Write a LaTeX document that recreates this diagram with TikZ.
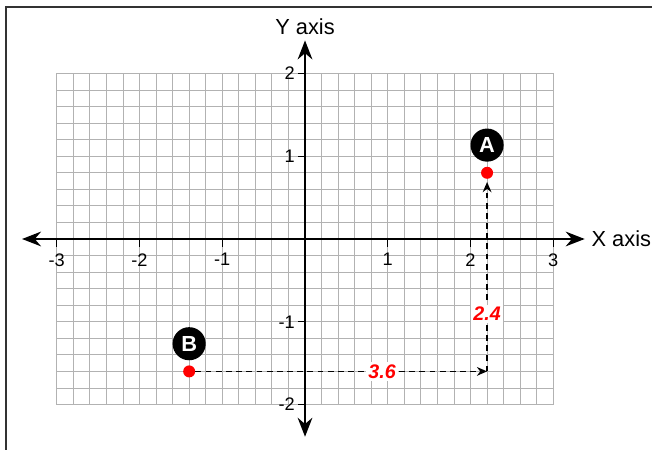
\documentclass[tikz,border=0pt]{standalone}
\usepackage{fontspec}
\setmainfont{Liberation Sans}
\usetikzlibrary{arrows.meta,positioning}
\definecolor{gridgray}{gray}{0.70}
\tikzset{
  dot/.style={circle,fill=red,inner sep=0pt,minimum size=0.29cm},
  badge/.style={circle,fill=black,text=white,inner sep=0pt,minimum size=0.8cm,
    font=\fontsize{15}{17}\selectfont\bfseries},
  axis/.style={line width=2pt,{Stealth[length=13pt,width=10pt]}-{Stealth[length=13pt,width=10pt]}},
  dist/.style={line width=1.1pt,dash pattern=on 4pt off 3pt,-{Stealth[length=7pt,width=6pt]}},
  distlabel/.style={fill=white,text=red,inner sep=1.5pt,
    font=\fontsize{13.5}{15}\selectfont\bfseries\itshape},
  ticklabel/.style={inner sep=0pt,font=\fontsize{12.5}{14}\selectfont},
}
\begin{document}
\begin{tikzpicture}[x=2cm,y=2cm]
  \useasboundingbox (-3.686,-2.538) rectangle (4.193,2.888);
  % frame
  \draw[line width=1.4pt,black!80] (-3.61,-3) rectangle (4.6,2.80);
  % grid
  \draw[gridgray,line width=0.6pt,step=0.2] (-3,-2) grid (3,2);
  % axes
  \draw[axis] (-3.42,0) -- (3.38,0);
  \draw[axis] (0,-2.39) -- (0,2.40);
  \node[anchor=west,inner sep=0pt,font=\fontsize{15}{17}\selectfont] (xname) at (3.46,0) {X axis};
  \node[inner sep=0pt,font=\fontsize{15}{17}\selectfont] (yname) at (0,2.56) {Y axis};
  % ticks
  \foreach \x in {-3,-2,-1,1,2,3} {
    \draw[line width=0.7pt] (\x,0) -- (\x,-0.1);
    \node[ticklabel,anchor=north] (xl\x) at (\x,-0.17) {\x};
  }
  \foreach \y in {-2,-1,1,2} {
    \draw[line width=0.7pt] (0,\y) -- (-0.08,\y);
    \node[ticklabel,anchor=east] (yl\y) at (-0.12,\y) {\y};
  }
  % points
  \node[dot] (a) at (2.2,0.8) {};
  \node[dot] (b) at (-1.4,-1.6) {};
  \coordinate (c) at (2.2,-1.6);
  \node[badge,above=0.11cm of a] (la) {A};
  \node[badge,above=0.11cm of b] (lb) {B};
  % distances
  \draw[dist] (b) -- (c) node[distlabel,pos=0.64] (dx) {3.6};
  \draw[dist,shorten >=2pt] (c) -- (a) node[distlabel,pos=0.3] (dy) {2.4};
\end{tikzpicture}
\end{document}
